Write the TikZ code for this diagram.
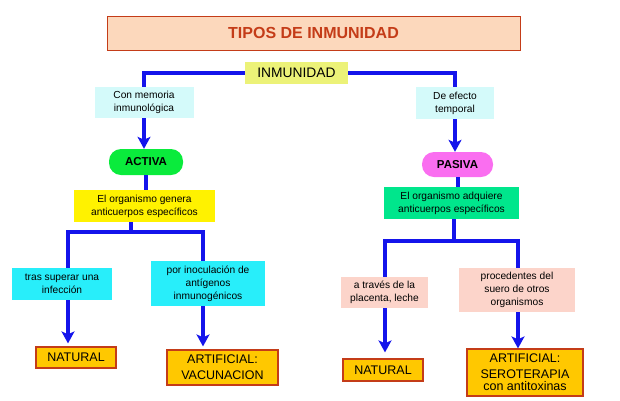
\documentclass[tikz,border=0pt]{standalone}
\usepackage{fontspec}
\setmainfont{Liberation Sans}
\usetikzlibrary{arrows.meta}

\definecolor{linkblue}{RGB}{20,20,235}
\definecolor{peach}{RGB}{252,216,188}
\definecolor{rust}{RGB}{196,60,24}
\definecolor{hubyellow}{RGB}{236,242,120}
\definecolor{palecyan}{RGB}{212,250,250}
\definecolor{activegreen}{RGB}{10,235,60}
\definecolor{passivepink}{RGB}{250,110,240}
\definecolor{seagreen}{RGB}{0,230,140}
\definecolor{brightcyan}{RGB}{40,238,250}
\definecolor{salmon}{RGB}{252,212,202}
\definecolor{gold}{RGB}{255,200,0}

\begin{document}
\begin{tikzpicture}[x=1pt, y=-1pt, >={Stealth[length=12pt,width=13pt,inset=3pt]},
    link/.style={draw=linkblue, line width=4pt},
    box/.style={inner sep=0pt, align=center, font=\fontsize{10.2}{12.8}\selectfont},
    note/.style={box, fill=palecyan},
    way/.style={box, fill=brightcyan},
    wayp/.style={box, fill=salmon},
    pill/.style={box, rounded corners=12pt, font=\fontsize{11.5}{14}\selectfont\bfseries},
    result/.style={box, fill=gold, draw=rust, line width=1.2pt, font=\fontsize{12.5}{16}\selectfont}]
    \useasboundingbox (0,0) rectangle (620,400);

    % heading
    \node[box, fill=peach, draw=rust, line width=.8pt, minimum width=413pt, minimum height=34pt,
      text=rust, font=\fontsize{16}{19}\selectfont\bfseries] (title) at (313.5,33) {TIPOS DE INMUNIDAD};
    \node[box, fill=hubyellow, minimum width=103pt, minimum height=22pt,
      font=\fontsize{13.8}{16}\selectfont] (inm) at (296.5,73) {INMUNIDAD};

    % left branch
    \node[note, minimum width=99pt, minimum height=31pt] (mem) at (144,102.5) {Con memoria\\inmunológica};
    \node[pill, fill=activegreen, minimum width=74pt, minimum height=26pt] (activa) at (146,162) {ACTIVA};
    \node[box, fill=yellow, minimum width=141pt, minimum height=32pt] (gen) at (144.5,206)
      {El organismo genera\\anticuerpos específicos};
    \node[way, minimum width=100pt, minimum height=32pt] (tras) at (62,284) {tras superar una\\infección};
    \node[way, minimum width=114pt, minimum height=45pt] (inoc) at (208,283.5)
      {por inoculación de\\antígenos\\inmunogénicos};
    \node[result, minimum width=80pt, minimum height=21pt] (natA) at (76,357.5) {NATURAL};
    \node[result, minimum width=111pt, minimum height=35pt] (artA) at (222.5,367.5) {ARTIFICIAL:\\VACUNACION};

    % right branch
    \node[note, minimum width=78pt, minimum height=32pt] (tmp) at (455,103) {De efecto\\temporal};
    \node[pill, fill=passivepink, minimum width=71pt, minimum height=25pt] (pasiva) at (457.5,164.5) {PASIVA};
    \node[box, fill=seagreen, minimum width=135pt, minimum height=32pt] (adq) at (451.5,203)
      {El organismo adquiere\\anticuerpos específicos};
    \node[wayp, minimum width=87pt, minimum height=31pt] (plac) at (384.5,292.5) {a través de la\\placenta, leche};
    \node[wayp, minimum width=116pt, minimum height=44pt] (suero) at (517,290)
      {procedentes del\\suero de otros\\organismos};
    \node[result, minimum width=80pt, minimum height=22pt] (natB) at (383,370) {NATURAL};
    \node[result, minimum width=116pt, minimum height=47pt] (artB) at (525,372.5)
      {ARTIFICIAL:\\SEROTERAPIA\\[-4pt]con antitoxinas};

    % joints
    \coordinate (jAl) at (68,232);
    \coordinate (jAm) at (131,232);
    \coordinate (jAr) at (203,232);
    \coordinate (jBl) at (385,241);
    \coordinate (jBm) at (454,241);
    \coordinate (jBr) at (518,241);

    % connectors
    \draw[link] (inm.west) -| (mem.north);
    \draw[link] (inm.east) -| (tmp.north);
    \draw[link,->] (mem.south) -- (mem.south |- activa.north);
    \draw[link,->] (tmp.south) -- (tmp.south |- pasiva.north);
    \draw[link] (activa.south) -- (activa.south |- gen.north);
    \draw[link] (pasiva.south) -- (pasiva.south |- adq.north);
    \draw[link] (jAm |- gen.south) -- (jAm);
    \draw[link] (jAl |- tras.north) -- (jAl) -- (jAr) -- (jAr |- inoc.north);
    \draw[link,->,shorten >=3pt] (jAl |- tras.south) -- (jAl |- natA.north);
    \draw[link,->,shorten >=3pt] (jAr |- inoc.south) -- (jAr |- artA.north);
    \draw[link] (jBm |- adq.south) -- (jBm);
    \draw[link] (jBl |- plac.north) -- (jBl) -- (jBr) -- (jBr |- suero.north);
    \draw[link,->,shorten >=6pt] (jBl |- plac.south) -- (jBl |- natB.north);
    \draw[link,->] (jBr |- suero.south) -- (jBr |- artB.north);
  \end{tikzpicture}
\end{document}
